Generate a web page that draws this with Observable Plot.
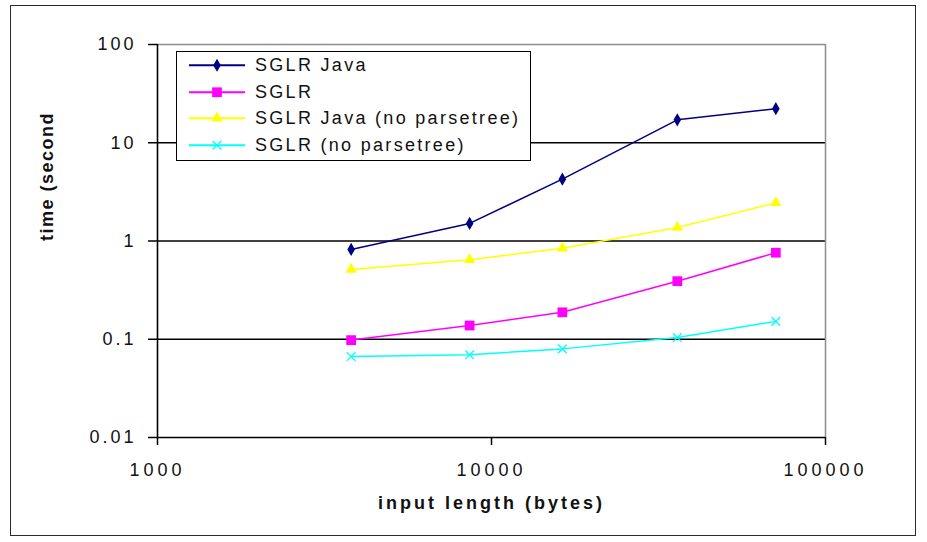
<!DOCTYPE html>
<html>
<head>
<meta charset="utf-8">
<script src="https://cdn.jsdelivr.net/npm/d3@7"></script>
<script src="https://cdn.jsdelivr.net/npm/@observablehq/plot@0.6"></script>
<style>
  html, body { margin: 0; padding: 0; background: #fff; }
  #wrap { position: relative; width: 927px; height: 542px; overflow: hidden; font-family: "Liberation Sans", Arial, sans-serif; }
  #frame { position: absolute; left: 10px; top: 5px; width: 906px; height: 531px; border: 1.5px solid #2a2a2a; box-sizing: border-box; pointer-events: none; }
  #chart { position: absolute; left: 0; top: 0; }
  #chart g[aria-label="x-axis tick label"] text { letter-spacing: 4px; }
  #chart g[aria-label="y-axis tick label"] text { letter-spacing: 3px; }
  #chart .title-x text { letter-spacing: 3px; }
  #chart .title-y text { letter-spacing: 1.5px; }
  #legend { position: absolute; left: 176px; top: 51px; width: 355px; height: 110px; box-sizing: border-box;
            border: 1.5px solid #000; background: #fff; }
  #legend .row { position: relative; height: 26.5px; }
  #legend svg { position: absolute; left: 12px; top: 0; }
  #legend span { position: absolute; left: 78px; top: 0; line-height: 26.5px; font-size: 18px; letter-spacing: 2.3px; color: #111; white-space: nowrap; }
</style>
</head>
<body>
<div id="wrap">
  <div id="chart"></div>
  <div id="legend"></div>
  <div id="frame"></div>
</div>
<script>
// Input sizes (bytes) and parse times (seconds) for each parser configuration
const inputSizes = [3800, 8600, 16300, 36000, 71000];
const sglrJava = [0.82, 1.51, 4.26, 17.1, 22.2];
const sglr = [0.098, 0.138, 0.188, 0.39, 0.76];
const sglrJavaNoTree = [0.514, 0.645, 0.843, 1.37, 2.45];
const sglrNoTree = [0.0667, 0.0695, 0.0798, 0.104, 0.152];

const seriesNames = ["SGLR Java", "SGLR", "SGLR Java (no parsetree)", "SGLR (no parsetree)"];
const legendLabels = ["SGLR Java", "SGLR", "SGLR Java (no parsetree)", "SGLR (no parsetree)"];
const seriesValues = [sglrJava, sglr, sglrJavaNoTree, sglrNoTree];
const seriesColors = ["#000080", "#ff00ff", "#ffff00", "#00ffff"];
const seriesSymbols = ["diamond", "square", "triangle", "times"];
const seriesRadius = [4, 5.5, 4.2, 4];

const xTicks = [1000, 10000, 100000];
const yTicks = [0.01, 0.1, 1, 10, 100];
const yGrid = [0.1, 1, 10];

const rows = seriesNames.flatMap((name, i) =>
  inputSizes.map((size, j) => ({series: name, size, time: seriesValues[i][j]}))
);

const dotMarks = seriesNames.map((name, i) => {
  const filled = seriesSymbols[i] !== "times";
  return Plot.dot(rows.filter(d => d.series === name), {
    x: "size", y: "time", symbol: seriesSymbols[i], r: seriesRadius[i],
    fill: filled ? seriesColors[i] : "none",
    stroke: filled ? "none" : seriesColors[i],
    strokeWidth: 1.3
  });
});

const chart = Plot.plot({
  width: 927,
  height: 542,
  marginLeft: 157,
  marginRight: 102,
  marginTop: 44,
  marginBottom: 105,
  style: {fontFamily: "'Liberation Sans', Arial, sans-serif", background: "transparent", color: "#111"},
  x: {type: "log", domain: [1000, 100000]},
  y: {type: "log", domain: [0.01, 100]},
  color: {domain: seriesNames, range: seriesColors},
  marks: [
    Plot.ruleY(yGrid, {stroke: "#000", strokeWidth: 1.6}),
    Plot.ruleY([100], {stroke: "#8c8c8c", strokeWidth: 1.5}),
    Plot.ruleX([100000], {stroke: "#8c8c8c", strokeWidth: 1.5}),
    Plot.ruleX([1000], {stroke: "#000", strokeWidth: 1.6}),
    Plot.ruleY([0.01], {stroke: "#000", strokeWidth: 1.6}),
    Plot.axisY({ticks: yTicks, tickFormat: d => String(d), tickSize: 9, tickPadding: 12,
                fontSize: 18, label: null, stroke: "#000", strokeWidth: 1.5}),
    Plot.axisX({ticks: xTicks, tickFormat: d => String(d), tickSize: 8, tickPadding: 18,
                fontSize: 18, label: null, stroke: "#000", strokeWidth: 1.5}),
    Plot.line(rows, {x: "size", y: "time", z: "series", stroke: "series", strokeWidth: 1.5}),
    ...dotMarks,
    Plot.text(["time (second"], {frameAnchor: "left", dx: -110, rotate: -90,
              fontWeight: "bold", fontSize: 18, fill: "#111", className: "title-y"}),
    Plot.text(["input length (bytes)"], {frameAnchor: "bottom", dy: 71,
              fontWeight: "bold", fontSize: 18, fill: "#111", className: "title-x"})
  ]
});
document.getElementById("chart").appendChild(chart);

// Legend: line sample with marker, followed by the series name
const legend = d3.select("#legend");
seriesNames.forEach((name, i) => {
  const row = legend.append("div").attr("class", "row");
  const svg = row.append("svg").attr("width", 58).attr("height", 26.5);
  svg.append("line").attr("x1", 0).attr("x2", 56).attr("y1", 13.25).attr("y2", 13.25)
     .attr("stroke", seriesColors[i]).attr("stroke-width", 1.8);
  const symbolType = {diamond: d3.symbolDiamond, square: d3.symbolSquare,
                      triangle: d3.symbolTriangle, times: d3.symbolTimes}[seriesSymbols[i]];
  const r = seriesRadius[i];
  const filled = seriesSymbols[i] !== "times";
  svg.append("path")
     .attr("transform", "translate(28,13.25)")
     .attr("d", d3.symbol(symbolType, Math.PI * r * r)())
     .attr("fill", filled ? seriesColors[i] : "none")
     .attr("stroke", filled ? "none" : seriesColors[i])
     .attr("stroke-width", 1.3);
  row.append("span").text(legendLabels[i]);
});
</script>
</body>
</html>
